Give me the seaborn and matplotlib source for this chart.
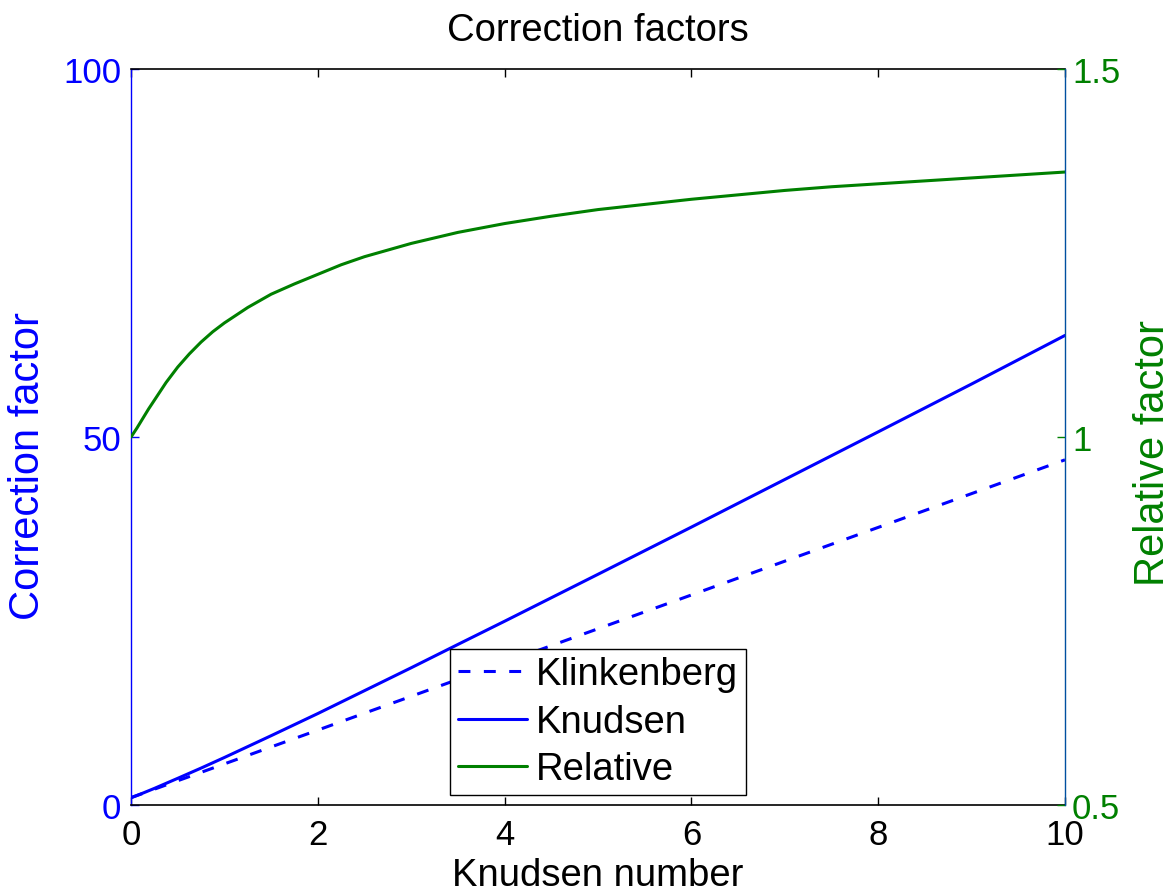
import matplotlib
matplotlib.use("Agg")
import matplotlib.pyplot as plt
import seaborn as sns
import pandas as pd

# Correction factors of the two permeability models against Knudsen number
kn_models = [0.0, 0.125, 0.25, 0.5, 0.75, 1.0, 1.5, 2.0, 2.5, 3.0, 3.5,
             4.0, 5.0, 6.0, 7.0, 8.0, 9.0, 10.0]
klinkenberg = [1.0, 1.57, 2.15, 3.30, 4.44, 5.59, 7.89, 10.18, 12.48, 14.77,
               17.07, 19.36, 23.95, 28.54, 33.13, 37.72, 42.31, 46.9]
knudsen = [1.0, 1.61, 2.26, 3.63, 5.02, 6.46, 9.42, 12.43, 15.54, 18.65,
           21.82, 24.97, 31.35, 37.76, 44.23, 50.70, 57.20, 63.8]

# Ratio of the Knudsen factor to the Klinkenberg factor
kn_relative = [0.0, 0.0625, 0.125, 0.1875, 0.25, 0.375, 0.5, 0.625, 0.75,
               0.875, 1.0, 1.25, 1.5, 1.75, 2.0, 2.25, 2.5, 2.75, 3.0, 3.5,
               4.0, 4.5, 5.0, 5.5, 6.0, 6.5, 7.0, 7.5, 8.0, 8.5, 9.0, 9.5,
               10.0]
relative = [1.000, 1.012, 1.025, 1.038, 1.050, 1.074, 1.095, 1.113, 1.129,
            1.143, 1.155, 1.176, 1.194, 1.208, 1.221, 1.234, 1.245, 1.254,
            1.263, 1.278, 1.290, 1.300, 1.309, 1.316, 1.323, 1.329, 1.335,
            1.340, 1.344, 1.348, 1.352, 1.356, 1.360]

left_ticks = [0, 50, 100]
right_ticks = [0.5, 1, 1.5]
right_tick_labels = ["0.5", "1", "1.5"]
x_ticks = [0, 2, 4, 6, 8, 10]

models = pd.DataFrame({"Kn": kn_models, "Klinkenberg": klinkenberg,
                       "Knudsen": knudsen})
ratio = pd.DataFrame({"Kn": kn_relative, "Relative": relative})

sns.set_style("white")
plt.rcParams["font.family"] = ["Liberation Sans", "DejaVu Sans"]
plt.rcParams["text.color"] = "black"
plt.rcParams["axes.labelcolor"] = "black"

BLUE = "#0000ff"
GREEN = "#008000"
TICK_FS = 25
LABEL_FS = 27.5
YLABEL_FS = 30
LW = 2.2

fig = plt.figure(figsize=(11.73, 8.95), dpi=100)
ax = fig.add_axes([0.1117, 0.0994, 0.7962, 0.8224])
ax2 = ax.twinx()

sns.lineplot(data=models, x="Kn", y="Klinkenberg", ax=ax, color=BLUE, lw=LW,
             label="Klinkenberg", legend=False)
ax.lines[-1].set_dashes((3.9, 4.4))
sns.lineplot(data=models, x="Kn", y="Knudsen", ax=ax, color=BLUE, lw=LW,
             label="Knudsen", legend=False)
sns.lineplot(data=ratio, x="Kn", y="Relative", ax=ax2, color=GREEN, lw=LW,
             label="Relative", legend=False)

ax.set_xlim(0, 10)
ax.set_ylim(0, 100)
ax2.set_ylim(0.5, 1.5)

ax.set_xticks(x_ticks)
ax.set_yticks(left_ticks)
ax2.set_yticks(right_ticks)
ax2.set_yticklabels(right_tick_labels)

ax.tick_params(axis="x", direction="in", length=6, width=1, top=True,
               bottom=True, labelsize=TICK_FS, pad=9, colors="black")
ax.tick_params(axis="y", direction="in", length=6, width=1, left=True,
               right=False, labelsize=TICK_FS, pad=7, colors=BLUE)
ax2.tick_params(axis="y", direction="in", length=6, width=1, right=True,
                left=False, labelsize=TICK_FS, pad=5, colors=GREEN)

for s in ("top", "bottom"):
    ax.spines[s].set_color("black")
    ax.spines[s].set_linewidth(1.2)
    ax2.spines[s].set_visible(False)
ax.spines["left"].set_color(BLUE)
ax.spines["left"].set_linewidth(1.0)
ax.spines["right"].set_visible(False)
ax2.spines["left"].set_visible(False)
ax2.spines["right"].set_color("#0050a0")
ax2.spines["right"].set_linewidth(1.0)

ax.set_xlabel("Knudsen number", fontsize=LABEL_FS, color="black", labelpad=5)
ax.set_ylabel("Correction factor", fontsize=YLABEL_FS, color=BLUE,
              va="center")
ax2.set_ylabel("Relative factor", fontsize=YLABEL_FS, color=GREEN,
               va="center")
ax.yaxis.set_label_coords(-0.1103, 0.462)
ax2.yaxis.set_label_coords(1.094, 0.48)
ax.set_title("Correction factors", fontsize=LABEL_FS, pad=21, color="black")

handles = ax.get_lines()[:2] + ax2.get_lines()[:1]
leg = ax2.legend(handles, [h.get_label() for h in handles],
                 loc="lower center", bbox_to_anchor=(0.5, 0.0136),
                 fontsize=LABEL_FS, frameon=True, fancybox=False,
                 handlelength=1.8, handletextpad=0.25, labelspacing=0.3,
                 borderpad=0.2, borderaxespad=0)
leg.get_frame().set_edgecolor("black")
leg.get_frame().set_linewidth(1.0)
leg.get_frame().set_alpha(1)

fig.savefig("out.png", dpi=100)
